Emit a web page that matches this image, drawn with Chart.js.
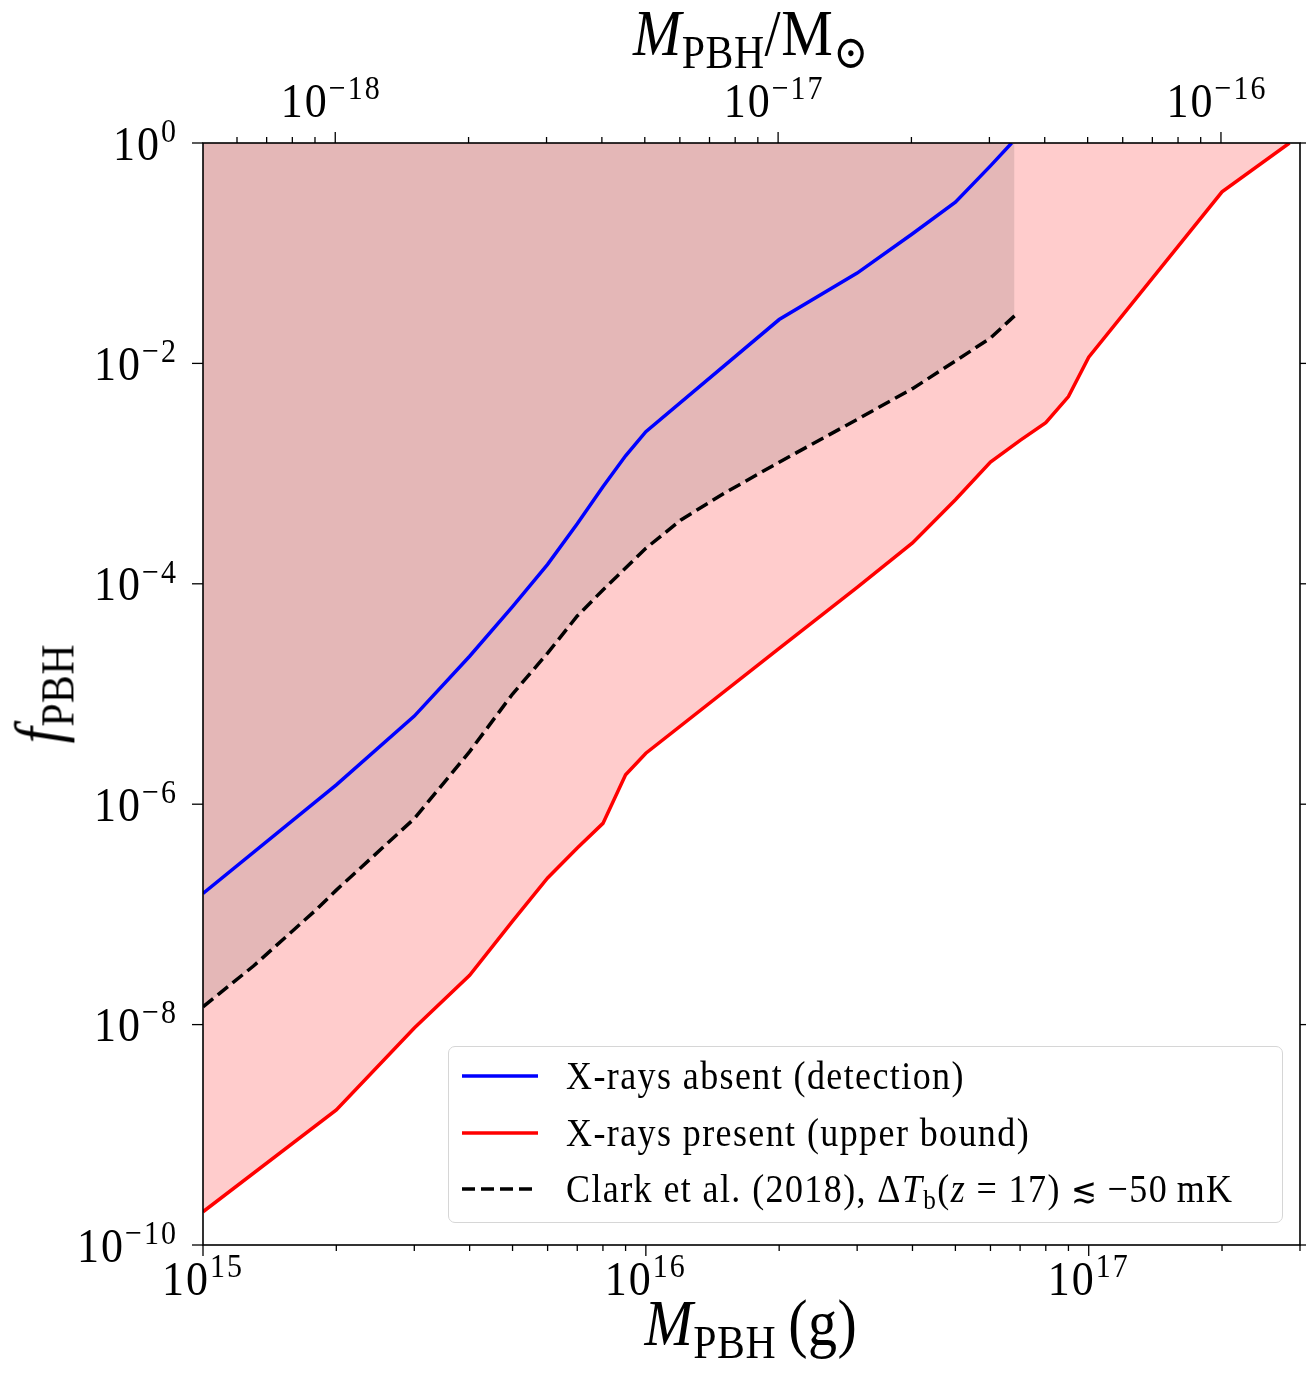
<!DOCTYPE html>
<html>
<head>
<meta charset="utf-8">
<script src="https://cdn.jsdelivr.net/npm/chart.js@4.4.1/dist/chart.umd.min.js"></script>
<style>
  html, body { margin: 0; padding: 0; background: #fff; }
  #wrap { position: relative; width: 1306px; height: 1376px; font-family: "Liberation Serif", "DejaVu Serif", serif; color: #000; }
  #box { position: absolute; left: 0; top: 0; width: 1306px; height: 1376px; }
  .title { position: absolute; white-space: nowrap; line-height: 1; letter-spacing: 0.5px; }
  .title i { font-style: italic; }
  .title sub { font-size: 0.72em; vertical-align: -0.28em; }
  #legend { position: absolute; left: 448px; top: 1046px; width: 835px; height: 177px; border: 1.5px solid #d6d6d6; border-radius: 7px; background: rgba(255,255,255,0.8); box-sizing: border-box; }
  .row { position: absolute; left: 0; height: 40px; white-space: nowrap; }
  .row svg { position: absolute; left: 12px; top: 17px; }
  .row > span { position: absolute; left: 117px; top: 0; font-size: 36px; letter-spacing: 1.4px; line-height: 40px; transform: scaleY(1.1); transform-origin: left center; }
  .row sub { font-size: 0.7em; vertical-align: -0.25em; line-height: 0; }
  .row .le { font-family: "DejaVu Serif", serif; font-size: 0.85em; letter-spacing: 0; }
</style>
</head>
<body>
<div id="wrap">
  <div id="box"><canvas id="myChart"></canvas></div>
  <div class="title" id="topTitle"><i>M</i><sub>PBH</sub>/M<sub>&#8857;</sub></div>
  <div class="title" id="bottomTitle"><i>M</i><sub>PBH</sub>&#8201;(g)</div>
  <div class="title" id="leftTitle"><i>f</i><sub>PBH</sub></div>
  <div id="legend"></div>
</div>
<script>
const MSUN = 1.989e33;

// X-rays absent (detection)
const massAbsent = [1e15, 2e15, 3e15, 4e15, 5e15, 6e15, 7e15, 8e15, 9e15, 1e16, 2e16, 3e16, 4e16, 5e16, 6e16, 6.7e16];
const fAbsent = [1.55e-7, 1.5e-6, 6.3e-6, 2.2e-5, 6.2e-5, 1.5e-4, 3.5e-4, 7.6e-4, 1.45e-3, 2.4e-3, 2.5e-2, 6.6e-2, 0.15, 0.29, 0.62, 1.0];

// X-rays present (upper bound)
const massPresent = [1e15, 2e15, 3e15, 4e15, 5e15, 6e15, 7e15, 8e15, 9e15, 1e16, 2e16, 3e16, 4e16, 5e16, 6e16, 7e16, 8e16, 9e16, 1e17, 2e17, 2.84e17];
const fPresent = [2.0e-10, 1.68e-9, 9.3e-9, 2.8e-8, 8.7e-8, 2.14e-7, 4.0e-7, 6.7e-7, 1.85e-6, 2.9e-6, 2.6e-5, 9.3e-5, 2.35e-4, 5.8e-4, 1.27e-3, 2.0e-3, 2.9e-3, 5.0e-3, 1.14e-2, 0.36, 1.0];

// Clark et al. (2018)
const massClark = [1e15, 1.3e15, 1.8e15, 2e15, 3e15, 4e15, 5e15, 6e15, 7e15, 8e15, 9e15, 1e16, 1.2e16, 1.5e16, 2e16, 3e16, 4e16, 5e16, 6e16, 6.8e16];
const fClark = [1.45e-8, 3.4e-8, 1.1e-7, 1.66e-7, 7.4e-7, 3.0e-6, 1.0e-5, 2.35e-5, 5.1e-5, 8.8e-5, 1.39e-4, 2.1e-4, 3.8e-4, 6.6e-4, 1.27e-3, 3.1e-3, 5.9e-3, 1.05e-2, 1.7e-2, 2.7e-2];

// ticks
const xMajor = [1e15, 1e16, 1e17];
const xLabels = ["15", "16", "17"];
const topMajor = [1e-18, 1e-17, 1e-16];
const topLabels = ["\u221218", "\u221217", "\u221216"];
const yMajor = [1, 1e-2, 1e-4, 1e-6, 1e-8, 1e-10];
const yLabels = ["0", "\u22122", "\u22124", "\u22126", "\u22128", "\u221210"];

const legendLabels = [
  "X-rays absent (detection)",
  "X-rays present (upper bound)",
  "Clark et al. (2018), &Delta;<i>T</i><sub>b</sub>(<i>z</i> = 17) <span class=\"le\">&#8818;</span> &minus;50&#8201;mK"
];

function pts(xs, ys) {
  return xs.map((x, i) => ({ x: x, y: ys[i] }));
}

const datasets = [
  {
    label: "X-rays absent (detection)",
    data: pts(massAbsent, fAbsent),
    borderColor: "#0000ff",
    borderWidth: 3.5,
    fill: false
  },
  {
    label: "Clark et al. (2018)",
    data: pts(massClark, fClark),
    borderColor: "#000000",
    borderWidth: 3.5,
    borderDash: [13, 6],
    fill: "end",
    backgroundColor: "rgba(0,0,0,0.105)"
  },
  {
    label: "X-rays present (upper bound)",
    data: pts(massPresent, fPresent),
    borderColor: "#ff0000",
    borderWidth: 3.5,
    fill: "end",
    backgroundColor: "rgba(255,0,0,0.2)"
  }
];

const FONT = '"Liberation Serif", "DejaVu Serif", serif';
const STRETCH = 1.12;

function supLabel(ctx, x, y, exp, align) {
  // "10" with a raised exponent, y = vertical centre of the "10"
  ctx.save();
  ctx.translate(x, y);
  ctx.scale(1, STRETCH);
  ctx.font = "44px " + FONT;
  const wb = ctx.measureText("10").width + 2;
  ctx.font = "30px " + FONT;
  const we = ctx.measureText(exp).width + exp.length * 2;
  const total = wb + we + 2;
  let start = align === "right" ? -total : -total / 2;
  ctx.textBaseline = "alphabetic";
  ctx.fillStyle = "#000";
  ctx.font = "44px " + FONT;
  ctx.letterSpacing = "2px";
  ctx.fillText("10", start, 14);
  ctx.font = "30px " + FONT;
  ctx.letterSpacing = "2px";
  ctx.fillText(exp, start + wb + 2, -2);
  ctx.restore();
}

function minorList(min, max, nFrom, nTo) {
  const out = [];
  for (let n = nFrom; n <= nTo; n++) {
    for (let k = 2; k <= 9; k++) {
      const v = k * Math.pow(10, n);
      if (v >= min && v <= max) out.push(v);
    }
  }
  return out;
}

const texAxes = {
  id: "texAxes",
  afterDraw(chart) {
    const ctx = chart.ctx;
    const a = chart.chartArea;
    const sx = chart.scales.x, sx2 = chart.scales.x2, sy = chart.scales.y;
    ctx.save();
    ctx.strokeStyle = "#000";
    ctx.lineWidth = 1.6;
    ctx.strokeRect(a.left, a.top, a.right - a.left, a.bottom - a.top);

    ctx.lineWidth = 1.3;
    const tick = (x1, y1, x2, y2) => { ctx.beginPath(); ctx.moveTo(x1, y1); ctx.lineTo(x2, y2); ctx.stroke(); };

    // bottom axis
    xMajor.forEach((v, i) => {
      const px = sx.getPixelForValue(v);
      tick(px, a.bottom, px, a.bottom + 11);
      supLabel(ctx, px, a.bottom + 34, xLabels[i], "center");
    });
    minorList(sx.min, sx.max, 15, 17).forEach(v => {
      const px = sx.getPixelForValue(v);
      tick(px, a.bottom, px, a.bottom + 6);
    });

    // top axis (solar masses)
    topMajor.forEach((v, i) => {
      const px = sx2.getPixelForValue(v);
      tick(px, a.top, px, a.top - 11);
      supLabel(ctx, px - 4, a.top - 42, topLabels[i], "center");
    });
    minorList(sx2.min, sx2.max, -19, -16).forEach(v => {
      const px = sx2.getPixelForValue(v);
      tick(px, a.top, px, a.top - 6);
    });

    // left and right axes
    yMajor.forEach((v, i) => {
      const py = sy.getPixelForValue(v);
      tick(a.left, py, a.left - 11, py);
      tick(a.right, py, a.right + 8, py);
      supLabel(ctx, a.left - 25, py + 1, yLabels[i], "right");
    });
    ctx.restore();
  }
};

const chart = new Chart(document.getElementById("myChart"), {
  type: "line",
  data: { datasets },
  options: {
    responsive: true,
    maintainAspectRatio: false,
    animation: false,
    devicePixelRatio: 1,
    layout: { padding: { left: 203, right: 6, top: 143, bottom: 131 } },
    elements: { point: { radius: 0 }, line: { tension: 0 } },
    plugins: {
      legend: { display: false },
      tooltip: { enabled: false },
      filler: { drawTime: "beforeDatasetsDraw" }
    },
    scales: {
      x: { type: "logarithmic", position: "bottom", min: 1e15, max: 3e17, display: false },
      x2: { type: "logarithmic", position: "top", min: 1e15 / MSUN, max: 3e17 / MSUN, display: false },
      y: { type: "logarithmic", position: "left", min: 1e-10, max: 1, display: false },
      y2: { type: "logarithmic", position: "right", min: 1e-10, max: 1, display: false }
    }
  },
  plugins: [texAxes]
});

// legend built from the dataset styles
const legend = document.getElementById("legend");
const legendOrder = [0, 2, 1];
legendOrder.forEach((di, r) => {
  const ds = datasets[di];
  const row = document.createElement("div");
  row.className = "row";
  row.style.top = (9 + r * 56.5) + "px";
  const dash = ds.borderDash ? ds.borderDash.join(",") : "none";
  row.innerHTML =
    '<svg width="80" height="6"><line x1="1" y1="3" x2="77" y2="3" stroke="' + ds.borderColor +
    '" stroke-width="' + ds.borderWidth + '" stroke-dasharray="' + dash + '"/></svg>' +
    "<span>" + legendLabels[r] + "</span>";
  legend.appendChild(row);
});

// axis titles
function place(id, cx, cy, size, rotate) {
  const el = document.getElementById(id);
  el.style.fontSize = size + "px";
  const w = el.offsetWidth, h = el.offsetHeight;
  el.style.left = (cx - w / 2) + "px";
  el.style.top = (cy - h / 2) + "px";
  el.style.transform = (rotate ? "rotate(-90deg) " : "") + "scaleY(" + STRETCH + ")";
}
place("topTitle", 751, 38, 58, false);
place("bottomTitle", 751, 1328, 58, false);
place("leftTitle", 44, 693, 58, true);
</script>
</body>
</html>
